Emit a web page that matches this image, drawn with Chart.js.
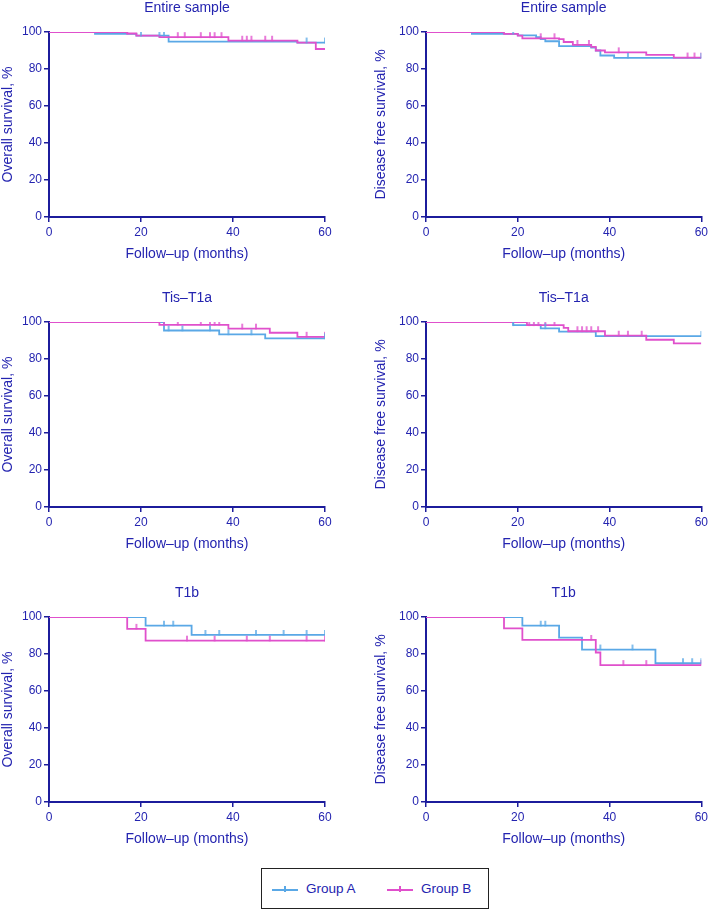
<!DOCTYPE html>
<html>
<head>
<meta charset="utf-8">
<script src="https://cdn.jsdelivr.net/npm/chart.js@4.4.1/dist/chart.umd.min.js"></script>
<style>
  body { margin: 0; background: #fff; width: 711px; height: 910px; position: relative; overflow: hidden; }
  .panel { position: absolute; }
  #legend {
    position: absolute; left: 261px; top: 868px; width: 226px; height: 39px;
    border: 1.5px solid #222; font-family: "Liberation Sans", Arial, sans-serif;
    font-size: 13.5px; color: #2424b0;
  }
  .item { position: absolute; top: 12px; }
  .sw { position: absolute; top: 8px; width: 26px; height: 1.6px; }
  .sw::after { content: ""; position: absolute; left: 12px; top: -3px; width: 1.5px; height: 6px; background: inherit; }
  .lbl { position: absolute; left: 34px; top: 0; white-space: nowrap; }
</style>
</head>
<body>

<div class="panel"><canvas id="c1"></canvas></div>
<div class="panel"><canvas id="c2"></canvas></div>
<div class="panel"><canvas id="c3"></canvas></div>
<div class="panel"><canvas id="c4"></canvas></div>
<div class="panel"><canvas id="c5"></canvas></div>
<div class="panel"><canvas id="c6"></canvas></div>

<div id="legend">
  <div class="item" style="left:10px"><div class="sw" style="background:#5aa8e6"></div><span class="lbl">Group A</span></div>
  <div class="item" style="left:125px"><div class="sw" style="background:#e050cc"></div><span class="lbl">Group B</span></div>
</div>

<script>
// Pasos de Kaplan-Meier: tiempos (meses) y supervivencia (%)
// Entire sample - Overall survival
const osAllA_t = [0, 10, 19, 26, 54, 60];
const osAllA_s = [100, 99, 98, 94.8, 94.3, 94.3];
const osAllA_c = [20, 24, 25, 56, 60];
const osAllB_t = [0, 17, 19, 24, 39, 54, 58, 60];
const osAllB_s = [100, 99.2, 98, 97.2, 95.3, 94.3, 90.8, 90.8];
const osAllB_c = [2, 14, 17, 28, 29.5, 33, 35, 36, 37.5, 42, 43, 44, 47, 48.5];

// Entire sample - Disease free survival
const dfsAllA_t = [0, 10, 20, 24, 25, 26, 29, 36, 37, 38, 41, 60];
const dfsAllA_s = [100, 99, 98.2, 97.2, 96.2, 95, 92.4, 91.6, 90, 87.3, 86, 86];
const dfsAllA_c = [19, 44, 60];
const dfsAllB_t = [0, 17, 20, 21, 29, 30, 32, 36, 37, 39, 48, 54, 60];
const dfsAllB_s = [100, 99, 98, 96.6, 96.2, 94.6, 93, 92, 90, 89, 87.6, 86.2, 86.2];
const dfsAllB_c = [1, 14, 25, 28, 33, 35.5, 42, 57, 58.5, 60];

// Tis-T1a - Overall survival
const osTisA_t = [0, 25, 37, 47, 60];
const osTisA_s = [100, 95.4, 93.3, 91.2, 91.2];
const osTisA_c = [19, 26, 29, 35, 39, 44, 60];
const osTisB_t = [0, 24, 39, 48, 54, 60];
const osTisB_s = [100, 98.5, 96.4, 94.2, 92, 92];
const osTisB_c = [25, 28, 33, 35, 36, 37, 42, 45, 56, 60];

// Tis-T1a - Disease free survival
const dfsTisA_t = [0, 19, 25, 29, 37, 60];
const dfsTisA_s = [100, 98.3, 96.6, 94.8, 92.4, 92.4];
const dfsTisA_c = [13, 19, 26, 60];
const dfsTisB_t = [0, 22, 30, 31, 39, 48, 54, 60];
const dfsTisB_s = [100, 98.3, 96.8, 95, 92.6, 90.4, 88.4, 88.4];
const dfsTisB_c = [22.5, 23.5, 24.5, 26, 28, 33, 34, 35, 36, 37.5, 42, 44, 47];

// T1b - Overall survival
const osT1bA_t = [0, 21, 31, 60];
const osT1bA_s = [100, 95.3, 90.3, 90.3];
const osT1bA_c = [25, 27, 34, 37, 45, 51, 56, 60];
const osT1bB_t = [0, 17, 21, 60];
const osT1bB_s = [100, 93.6, 87.2, 87.2];
const osT1bB_c = [19, 30, 36, 43, 48, 56, 60];

// T1b - Disease free survival
const dfsT1bA_t = [0, 21, 29, 34, 50, 60];
const dfsT1bA_s = [100, 95.3, 88.8, 82.4, 75, 75];
const dfsT1bA_c = [25, 26, 38, 45, 56, 58, 60];
const dfsT1bB_t = [0, 17, 21, 37, 38, 60];
const dfsT1bB_s = [100, 93.8, 87.6, 80.8, 74, 74];
const dfsT1bB_c = [36, 43, 48, 60];

const xTicks = [0, 20, 40, 60];
const yTicks = [0, 20, 40, 60, 80, 100];
const panelTitles = ['Entire sample', 'Entire sample', 'Tis\u2013T1a', 'Tis\u2013T1a', 'T1b', 'T1b'];
const yTitles = ['Overall survival, %', 'Disease free survival, %'];
const xTitle = 'Follow\u2013up (months)';

const AZUL_EJE = '#1c1c9c';
const TEXTO = '#2424b0';
const COLOR_A = '#5aa8e6';
const COLOR_B = '#e050cc';
const FUENTE = '"Liberation Sans", Arial, sans-serif';

// Marca de censura: trazo vertical por encima de la línea
function marcaCensura(color) {
    const c = document.createElement('canvas');
    c.width = 4; c.height = 12;
    const g = c.getContext('2d');
    g.strokeStyle = color;
    g.lineWidth = 1.5;
    g.beginPath();
    g.moveTo(2, 1);
    g.lineTo(2, 6.5);
    g.stroke();
    return c;
}

function puntos(t, s) {
    return t.map((v, i) => ({ x: v, y: s[i] }));
}

// nivel de la curva en el instante t (para situar las censuras)
function nivel(t, s, x) {
    let y = s[0];
    for (let i = 0; i < t.length; i++) {
        if (t[i] <= x) y = s[i];
    }
    return y;
}

function censuras(t, s, c) {
    return c.map(x => ({ x: x, y: nivel(t, s, x) }));
}

const paneles = [
    { id: 'c1', col: 0, top: 0,   A: [osAllA_t, osAllA_s, osAllA_c],   B: [osAllB_t, osAllB_s, osAllB_c] },
    { id: 'c2', col: 1, top: 0,   A: [dfsAllA_t, dfsAllA_s, dfsAllA_c], B: [dfsAllB_t, dfsAllB_s, dfsAllB_c] },
    { id: 'c3', col: 0, top: 290, A: [osTisA_t, osTisA_s, osTisA_c],   B: [osTisB_t, osTisB_s, osTisB_c] },
    { id: 'c4', col: 1, top: 290, A: [dfsTisA_t, dfsTisA_s, dfsTisA_c], B: [dfsTisB_t, dfsTisB_s, dfsTisB_c] },
    { id: 'c5', col: 0, top: 585, A: [osT1bA_t, osT1bA_s, osT1bA_c],   B: [osT1bB_t, osT1bB_s, osT1bB_c] },
    { id: 'c6', col: 1, top: 585, A: [dfsT1bA_t, dfsT1bA_s, dfsT1bA_c], B: [dfsT1bB_t, dfsT1bB_s, dfsT1bB_c] }
];

const marcaA = marcaCensura(COLOR_A);
const marcaB = marcaCensura(COLOR_B);

paneles.forEach((p, idx) => {
    const canvas = document.getElementById(p.id);
    const caja = canvas.parentElement;
    const left = p.col === 0 ? 0 : 355;
    const ancho = p.col === 0 ? 345 : 356;
    const anchoEjeY = p.col === 0 ? 49 : 71;
    caja.style.left = left + 'px';
    caja.style.top = p.top + 'px';
    caja.style.width = ancho + 'px';
    caja.style.height = '270px';

    // order: el grupo B (magenta) queda por encima del A, como en el original
    const curva = (d, color, orden) => ({
        type: 'line',
        data: puntos(d[0], d[1]),
        borderColor: color,
        borderWidth: 1.8,
        stepped: true,
        pointRadius: 0,
        fill: false,
        order: orden
    });
    const cens = (d, color, img) => ({
        type: 'scatter',
        data: censuras(d[0], d[1], d[2]),
        pointStyle: img,
        pointRadius: 4,
        borderColor: color,
        backgroundColor: color,
        order: 0
    });

    new Chart(canvas, {
        data: {
            datasets: [
                curva(p.A, COLOR_A, 2),
                curva(p.B, COLOR_B, 1),
                cens(p.A, COLOR_A, marcaA),
                cens(p.B, COLOR_B, marcaB)
            ]
        },
        options: {
            responsive: true,
            maintainAspectRatio: false,
            animation: false,
            layout: { padding: { left: 0, right: ancho - anchoEjeY - 276, top: 0, bottom: 0 } },
            plugins: {
                legend: { display: false },
                tooltip: { enabled: false },
                title: {
                    display: true,
                    text: panelTitles[idx],
                    color: TEXTO,
                    fullSize: false,
                    font: { family: FUENTE, size: 14, weight: 'normal', lineHeight: 1 },
                    padding: { top: 1, bottom: 17 }
                }
            },
            scales: {
                x: {
                    type: 'linear',
                    min: 0, max: 60,
                    afterBuildTicks: s => { s.ticks = xTicks.map(v => ({ value: v })); },
                    afterFit: s => { s.height = 53; },
                    border: { display: true, color: AZUL_EJE, width: 2 },
                    grid: { display: true, drawOnChartArea: false, drawTicks: true, tickLength: 5, color: AZUL_EJE, lineWidth: 1.5 },
                    ticks: { color: TEXTO, font: { family: FUENTE, size: 12 }, padding: 3, maxRotation: 0 },
                    title: {
                        display: true, text: xTitle, color: TEXTO,
                        font: { family: FUENTE, size: 14 },
                        padding: { top: 0, bottom: 7 }
                    }
                },
                y: {
                    type: 'linear',
                    min: 0, max: 100,
                    afterBuildTicks: s => { s.ticks = yTicks.map(v => ({ value: v })); },
                    afterFit: s => { s.width = anchoEjeY; },
                    border: { display: true, color: AZUL_EJE, width: 2 },
                    grid: { display: true, drawOnChartArea: false, drawTicks: true, tickLength: 5, color: AZUL_EJE, lineWidth: 1.5 },
                    ticks: { color: TEXTO, font: { family: FUENTE, size: 12 }, padding: 2 },
                    title: {
                        display: true, text: yTitles[p.col], color: TEXTO,
                        font: { family: FUENTE, size: 14 },
                        padding: { top: p.col === 0 ? 0 : 18, bottom: 0 }
                    }
                }
            }
        }
    });
});
</script>
</body>
</html>
